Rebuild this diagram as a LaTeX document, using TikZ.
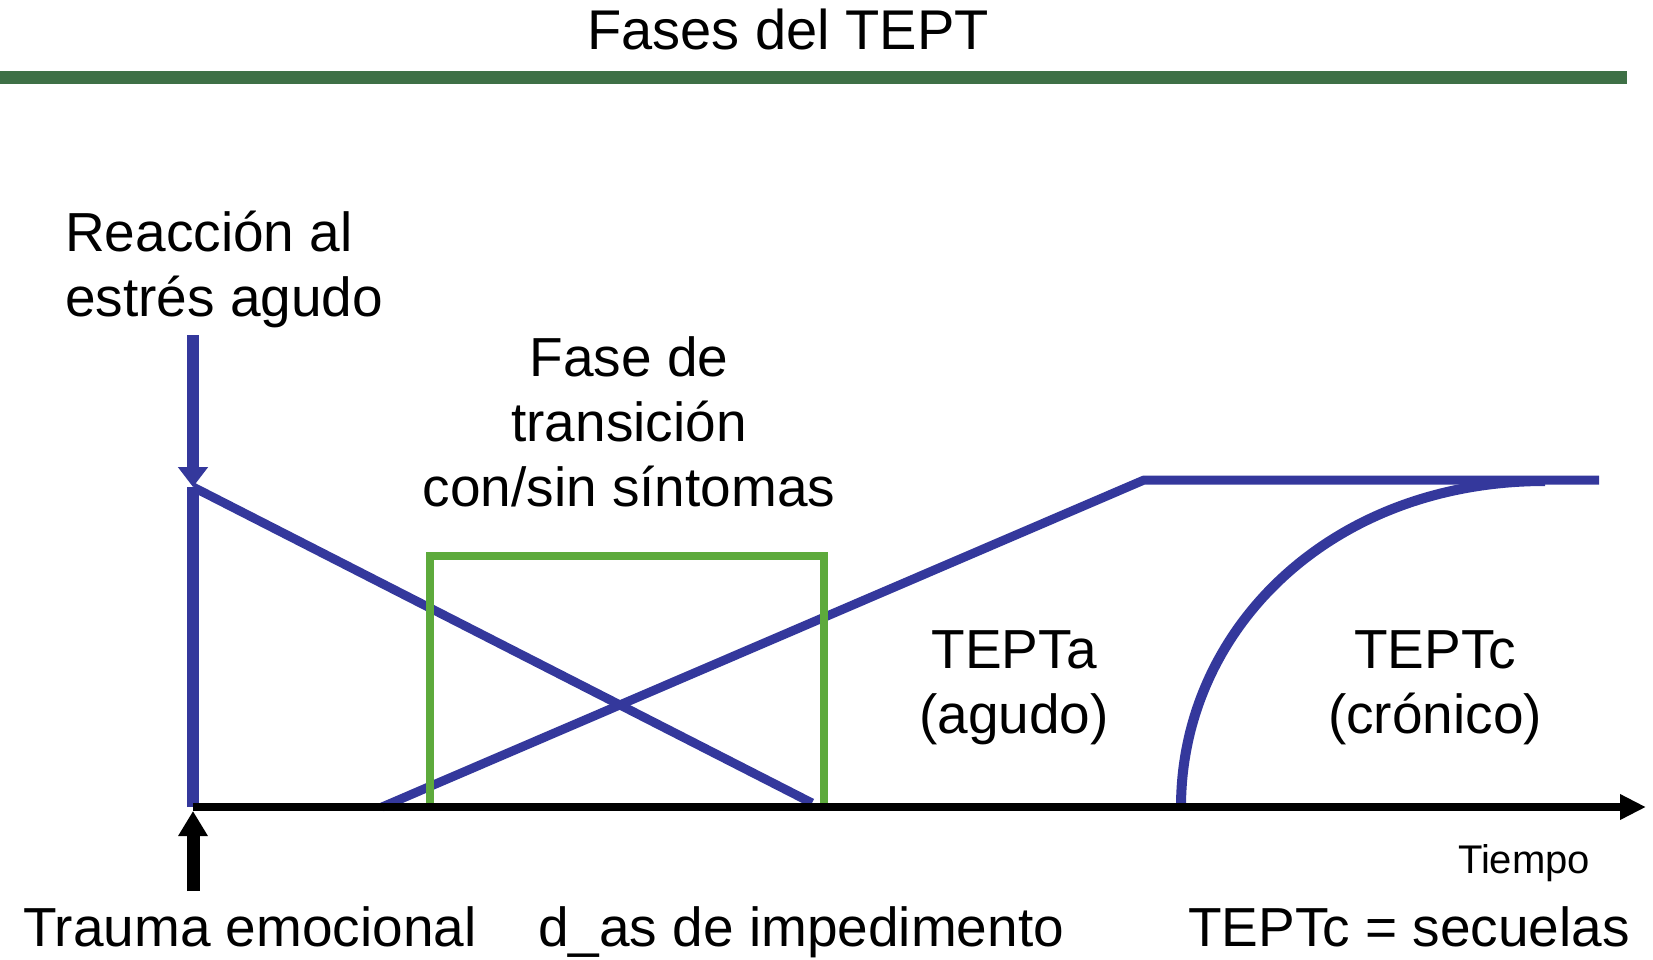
\documentclass[tikz,border=0pt]{standalone}
\usepackage{fontspec}
\setmainfont{Liberation Sans}
\usetikzlibrary{arrows.meta}
\definecolor{tblue}{RGB}{52,56,156}
\definecolor{tgreen}{RGB}{93,170,60}
\definecolor{dgreen}{RGB}{62,112,70}
\begin{document}
\begin{tikzpicture}[x=1pt,y=-1pt,
  lbl/.style={inner sep=0pt, font=\fontsize{55}{65}\selectfont},
  bline/.style={draw=tblue, line width=9pt},
  gline/.style={draw=tgreen, line width=8pt},
  kline/.style={draw=black, line width=8pt}]
\useasboundingbox (0,0) rectangle (1653,959);
% coordinates
\coordinate (O) at (193,807);
\coordinate (P) at (193,487);
\coordinate (A) at (193,335);
\coordinate (D) at (812,803);
\coordinate (S) at (382,807);
\coordinate (K) at (1144,480);
\coordinate (E) at (1599,480);
\coordinate (C0) at (1181,807);
\coordinate (C1) at (1545,481);
\coordinate (X) at (1646,807);
\coordinate (B) at (193,891);
\coordinate (Bt) at (193,811);
\coordinate (G1) at (430,807);
\coordinate (G2) at (430,556);
\coordinate (G3) at (824,556);
\coordinate (G4) at (824,807);
% title and rule
\node[lbl, font=\fontsize{56}{65}\selectfont, anchor=base] (title) at (788,49) {Fases del TEPT};
\draw[draw=dgreen, line width=13pt] (0,77) coordinate (R0) -- (1627,77) coordinate (R1);
% blue curves
\draw[bline, line width=12pt] (O) -- (P);
\draw[bline, line width=12pt, -{Triangle[width=29pt,length=20pt]}] (A) -- (P);
\draw[bline] (P) -- (D);
\draw[bline, line join=round] (S) -- (K) -- (E);
\draw[bline, line width=10pt] (C0) .. controls (1181,630) and (1330,481) .. (C1);
% green box
\draw[gline] (G1) -- (G2) -- (G3) -- (G4);
% axis
\draw[kline, -{Triangle[width=24pt,length=26pt]}] (O) -- (X);
\draw[kline, line width=13pt, -{Triangle[width=28pt,length=25pt]}] (B) -- (Bt);
% labels (multi-line nodes: base = last line's baseline)
\node[lbl, anchor=base west, align=left] (react) at (65,316) {Reacción al\\estrés agudo};
\node[lbl, anchor=base, align=center] (trans) at (629,506) {Fase de\\transición\\con/sin síntomas};
\node[lbl, anchor=base, align=center] (tepta) at (1014,733) {TEPTa\\(agudo)};
\node[lbl, anchor=base, align=center] (teptc) at (1435,733) {TEPTc\\(crónico)};
\node[lbl, font=\fontsize{40}{48}\selectfont, anchor=base] (tiempo) at (1524,873) {Tiempo};
\node[lbl, anchor=base west] (trauma) at (23,946) {Trauma emocional};
\node[lbl, anchor=base west] (dias) at (538,946) {d\_as de impedimento};
\node[lbl, anchor=base west] (secuelas) at (1188,946) {TEPTc = secuelas};
\end{tikzpicture}
\end{document}
